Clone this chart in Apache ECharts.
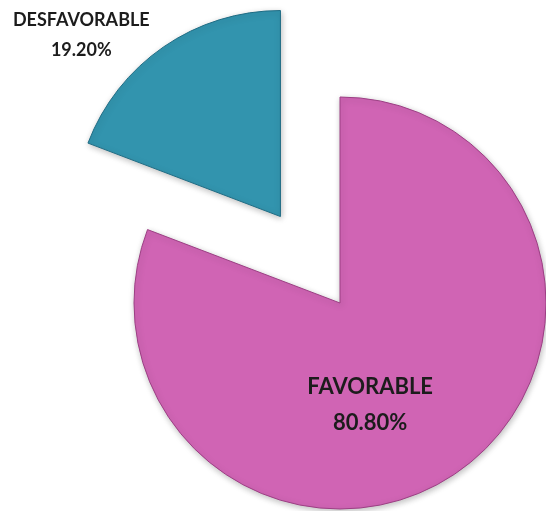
<!DOCTYPE html>
<html>
<head>
<meta charset="utf-8">
<script src="https://cdn.jsdelivr.net/npm/echarts@6/dist/echarts.min.js"></script>
<style>
  html, body { margin: 0; padding: 0; background: #fff; }
  #chart { width: 546px; height: 511px; }
</style>
</head>
<body>
<div id="chart"></div>
<script>
// data
var categories = ['FAVORABLE', 'DESFAVORABLE'];
var values = [80.8, 19.2];
var sliceColors = ['#d064b4', '#3294ae'];
var edgeColors = ['#9c3f84', '#1f6c84'];

var myChart = echarts.init(document.getElementById('chart'));

// label placement per slice (offset from the slice's inside anchor)
var labelStyles = [
    { offset: [-30, 15], fontSize: 22, lineHeight: 36 },
    { offset: [-139, -94], fontSize: 18, lineHeight: 30 }
];

var pieData = categories.map(function (name, i) {
    var lbl = {
        offset: labelStyles[i].offset,
        fontSize: labelStyles[i].fontSize,
        lineHeight: labelStyles[i].lineHeight
    };
    return {
        name: name,
        value: values[i],
        selected: i === 1,
        itemStyle: {
            color: sliceColors[i],
            borderColor: edgeColors[i],
            borderWidth: 1,
            shadowBlur: 6,
            shadowColor: 'rgba(0,0,0,0.25)',
            shadowOffsetX: 1,
            shadowOffsetY: 2
        },
        label: lbl,
        select: { label: lbl }
    };
});

myChart.setOption({
    animation: false,
    series: [{
        type: 'pie',
        center: [340, 303],
        radius: 206,
        startAngle: 90,
        clockwise: true,
        selectedMode: 'single',
        selectedOffset: 105,
        label: {
            show: true,
            position: 'inside',
            formatter: function (p) {
                return p.name + '\n' + p.value.toFixed(2) + '%';
            },
            fontFamily: 'Lato, "Open Sans", sans-serif',
            fontWeight: 'bold',
            color: '#1c1c1c',
            align: 'center'
        },
        labelLine: { show: false },
        emphasis: { disabled: true },
        data: pieData
    }]
});
</script>
</body>
</html>
